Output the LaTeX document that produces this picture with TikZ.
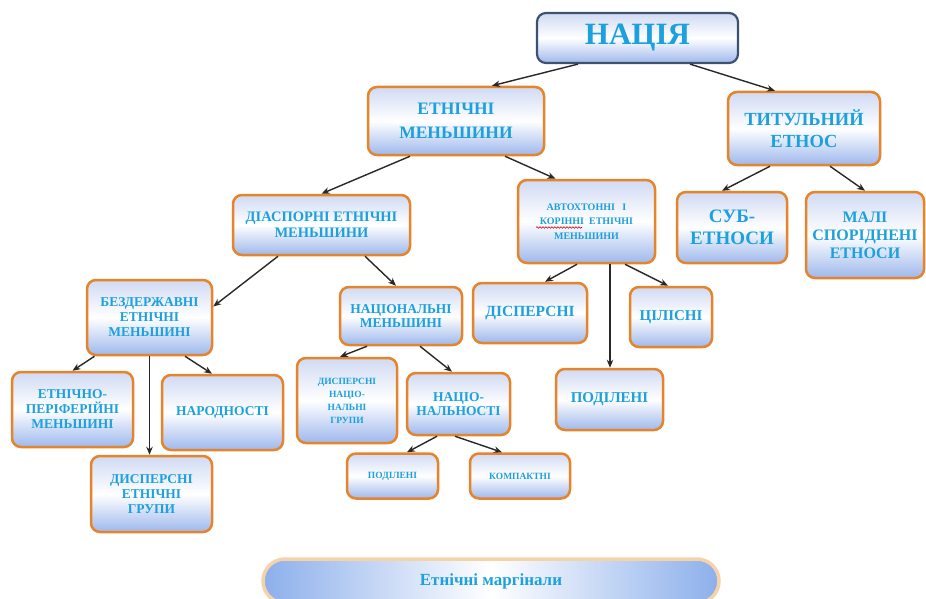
\documentclass[tikz,border=0pt]{standalone}
\usepackage{fontspec}
\setmainfont{Liberation Serif}
\usetikzlibrary{arrows.meta,calc,decorations.pathmorphing}
\definecolor{txtblue}{RGB}{28,160,222}
\definecolor{orng}{RGB}{230,132,44}
\definecolor{ftop}{RGB}{208,218,243}
\definecolor{fbot}{RGB}{158,184,236}
\definecolor{natborder}{RGB}{62,82,112}
\definecolor{margborder}{RGB}{246,210,170}
\definecolor{margside}{RGB}{140,175,235}
\definecolor{arrgray}{RGB}{40,40,40}
\newcommand{\fs}[2]{\fontsize{#1}{#2}\selectfont\bfseries}
\tikzset{
  box/.style={draw=orng, line width=2.5pt, rounded corners=9pt,
    top color=ftop, bottom color=fbot, middle color=white,
    text=txtblue, align=center, inner sep=1pt},
  natbox/.style={box, draw=natborder, line width=2.2pt},
  margbox/.style={draw=margborder, line width=3.5pt, rounded corners=22pt,
    left color=margside, right color=margside, middle color=white,
    text=txtblue, align=center},
  arr/.style={draw=arrgray, line width=1.4pt, -{Stealth[length=8pt,width=6.5pt]}}
}
\begin{document}
\begin{tikzpicture}[x=1pt,y=-1pt]
\useasboundingbox (0,0) rectangle (926,599);
\fill[white] (0,0) rectangle (926,599);

\node[natbox, minimum width=201pt, minimum height=50pt, font=\fs{31}{34}] (nat) at (637.5,38) {НАЦІЯ};
\node[box, minimum width=176pt, minimum height=68pt, font=\fs{17.5}{24}] (em) at (456,121) {ЕТНІЧНІ\\МЕНЬШИНИ};
\node[box, minimum width=152pt, minimum height=73pt, font=\fs{18.5}{22}] (tit) at (804,128.5) {ТИТУЛЬНИЙ\\ЕТНОС};
\node[box, minimum width=177pt, minimum height=60pt, font=\fs{14.5}{16}] (dia) at (321.5,225) {ДІАСПОРНІ ЕТНІЧНІ\\МЕНЬШИНИ};
\node[box, minimum width=137pt, minimum height=83pt, font=\fs{10}{14.5}] (aut) at (586.5,221.5) {АВТОХТОННІ \ \ І\\КОРІННІ \ ЕТНІЧНІ\\МЕНЬШИНИ};
\node[box, minimum width=110pt, minimum height=71pt, font=\fs{19}{22}] (sub) at (732,227.5) {СУБ-\\ЕТНОСИ};
\node[box, minimum width=118pt, minimum height=86pt, font=\fs{16}{18}] (mal) at (865,235) {МАЛІ\\СПОРІДНЕНІ\\ЕТНОСИ};
\node[box, minimum width=125pt, minimum height=75pt, font=\fs{13.5}{15}] (bez) at (149.5,317.5) {БЕЗДЕРЖАВНІ\\ЕТНІЧНІ\\МЕНЬШИНІ};
\node[box, minimum width=122pt, minimum height=58pt, font=\fs{13.5}{14.5}] (nacm) at (401,316) {НАЦІОНАЛЬНІ\\МЕНЬШИНІ};
\node[box, minimum width=121pt, minimum height=75pt, font=\fs{13.5}{15}] (per) at (72.5,409.5) {ЕТНІЧНО-\\ПЕРІФЕРІЙНІ\\МЕНЬШИНІ};
\node[box, minimum width=121pt, minimum height=75pt, font=\fs{13.5}{15}] (nar) at (222.5,412.5) {НАРОДНОСТІ};
\node[box, minimum width=121pt, minimum height=76pt, font=\fs{13.5}{15}] (deg) at (151.5,494) {ДИСПЕРСНІ\\ЕТНІЧНІ\\ГРУПИ};
\node[box, minimum width=100pt, minimum height=85pt, font=\fs{9.5}{13}] (dng) at (347,400.5) {ДИСПЕРСНІ\\НАЦІО-\\НАЛЬНІ\\ГРУПИ};
\node[box, minimum width=103pt, minimum height=62pt, font=\fs{13.5}{14}] (nal) at (458.5,404) {НАЦІО-\\НАЛЬНОСТІ};
\node[box, minimum width=91pt, minimum height=45pt, font=\fs{9.5}{12}] (pod1) at (392.5,476) {ПОДІЛЕНІ};
\node[box, minimum width=100pt, minimum height=45pt, font=\fs{9.5}{12}] (kom) at (520,476) {КОМПАКТНІ};
\node[box, minimum width=114pt, minimum height=60pt, font=\fs{15.5}{17}] (dis) at (530,313) {ДІСПЕРСНІ};
\node[box, minimum width=82pt, minimum height=60pt, font=\fs{15}{17}] (cil) at (671,317) {ЦІЛІСНІ};
\node[box, minimum width=107pt, minimum height=61pt, font=\fs{15}{17}] (pod2) at (609.5,399.5) {ПОДІЛЕНІ};
\node[margbox, minimum width=456pt, minimum height=44pt, font=\fs{17}{19}] (marg) at (491,581) {Етнічні маргінали};

% spell-check squiggle
\draw[red!80!black, line width=0.6pt, decorate, decoration={snake, amplitude=0.8pt, segment length=3pt}] (536,227.5) -- (582,227.5);

\draw[arr] ([xshift=-59.5pt]nat.south) -- ([xshift=36pt]em.north);
\draw[arr] ([xshift=52.5pt]nat.south) -- ([xshift=-29pt]tit.north);
\draw[arr] ([xshift=-46pt]em.south) -- (dia.north);
\draw[arr] ([xshift=49pt]em.south) -- ([xshift=-31pt]aut.north);
\draw[arr] ([xshift=-34pt]tit.south) -- ([xshift=-10pt]sub.north);
\draw[arr] ([xshift=26pt]tit.south) -- (mal.north);
\draw[arr] ([xshift=-43.5pt]dia.south) -- ([yshift=11pt]bez.east);
\draw[arr] ([xshift=43.5pt]dia.south) -- ([xshift=-5pt]nacm.north);
\draw[arr] ([xshift=-55pt]bez.south) -- (per.north);
\draw[arr] (bez.south) -- (bez.south |- deg.north);
\draw[arr] ([xshift=35.5pt]bez.south) -- ([xshift=-10.5pt]nar.north);
\draw[arr] ([xshift=-34pt]nacm.south) -- ([xshift=-7pt]dng.north);
\draw[arr] ([xshift=19pt]nacm.south) -- ([xshift=-6.5pt]nal.north);
\draw[arr] ([xshift=-21.5pt]nal.south) -- ([xshift=14.5pt]pod1.north);
\draw[arr] ([xshift=-3.5pt]nal.south) -- ([xshift=-18pt]kom.north);
\draw[arr] ([xshift=-9.5pt]aut.south) -- ([xshift=15pt]dis.north);
\draw[arr] ([xshift=23.5pt]aut.south) -- ([xshift=23.5pt]aut.south |- pod2.north);
\draw[arr] ([xshift=38.5pt]aut.south) -- ([xshift=-3pt]cil.north);
\end{tikzpicture}
\end{document}
